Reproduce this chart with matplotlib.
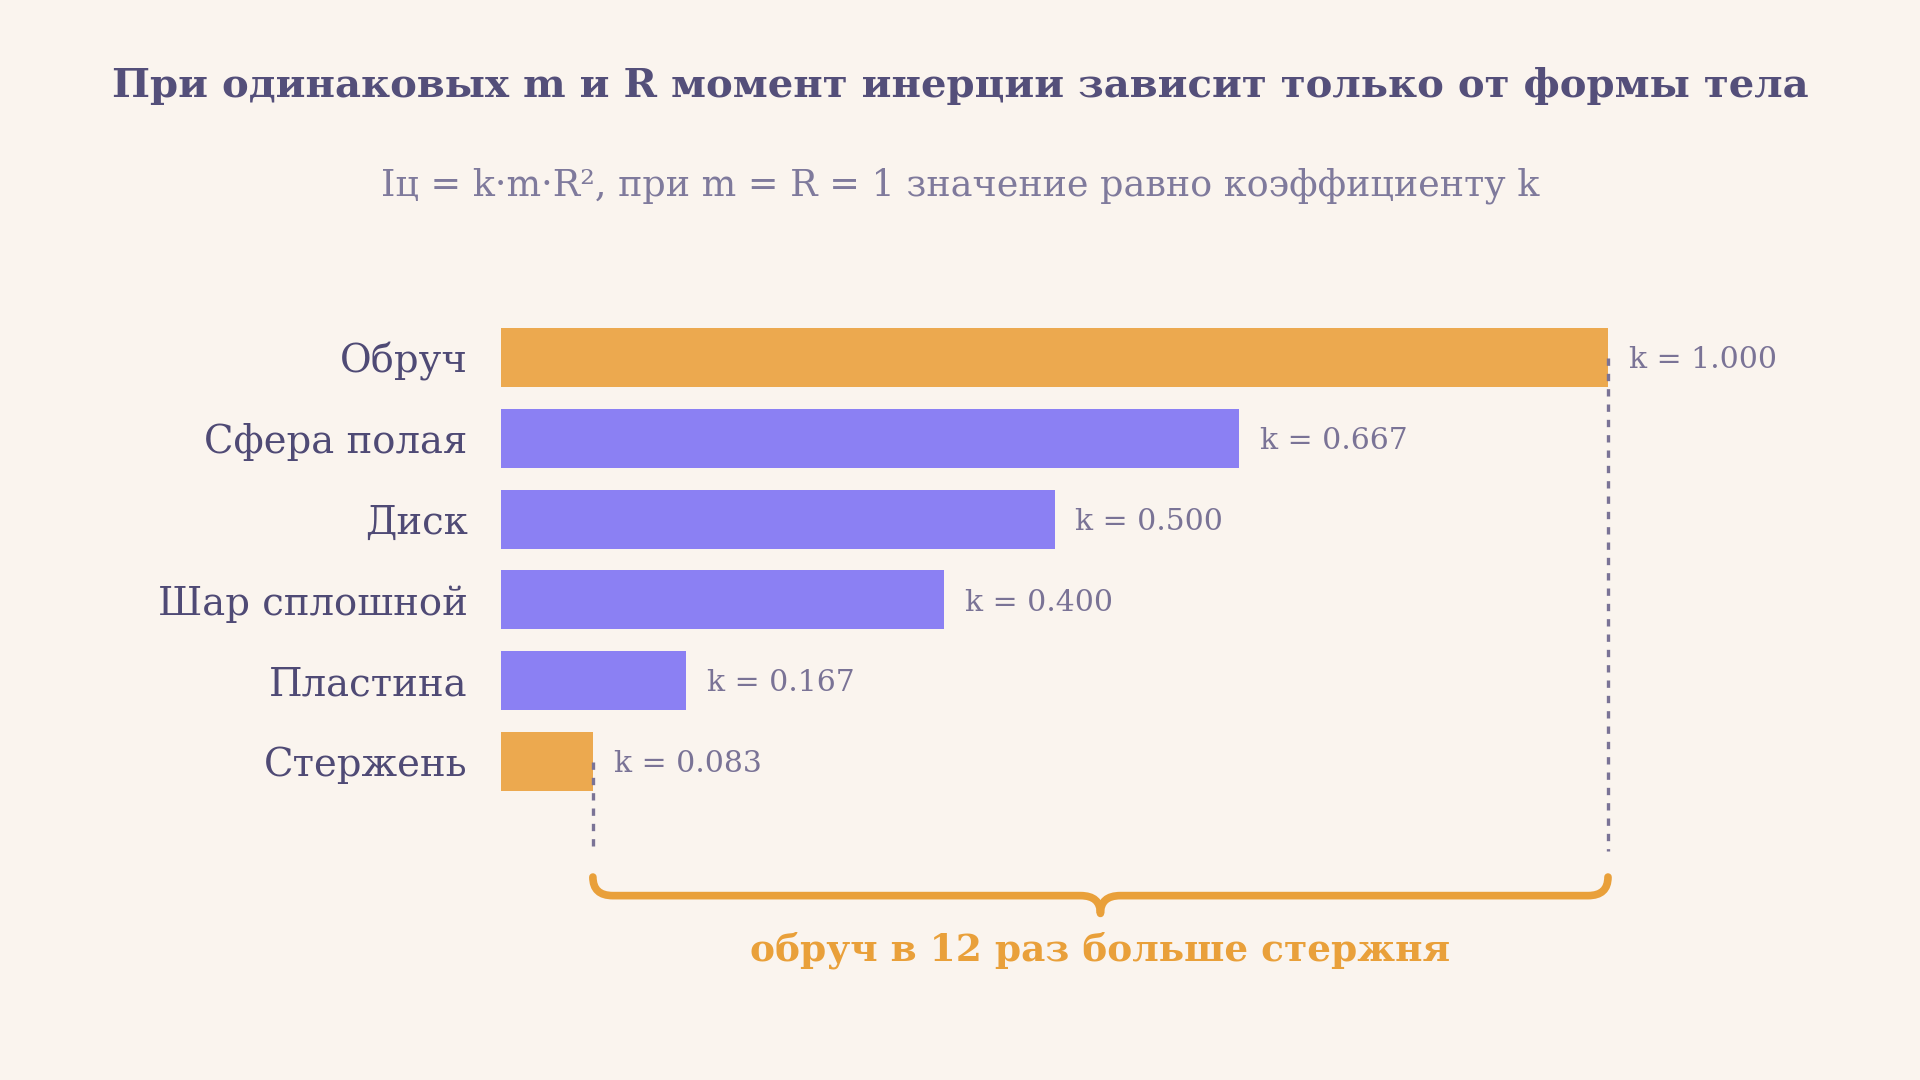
import matplotlib
matplotlib.use("Agg")
import matplotlib.pyplot as plt
from matplotlib.path import Path
from matplotlib.patches import PathPatch

# ---- data ----
categories = ["Обруч", "Сфера полая", "Диск", "Шар сплошной", "Пластина", "Стержень"]
k_values = [1.000, 0.667, 0.500, 0.400, 0.167, 0.083]
value_labels = ["k = 1.000", "k = 0.667", "k = 0.500", "k = 0.400", "k = 0.167", "k = 0.083"]
highlight = [True, False, False, False, False, True]

title = "При одинаковых m и R момент инерции зависит только от формы тела"
subtitle = "Iц = k·m·R², при m = R = 1 значение равно коэффициенту k"
brace_text = "обруч в 12 раз больше стержня"

# ---- style ----
BG = "#FAF4EE"
ORANGE = "#ECA94F"
BRACE = "#E9A03A"
PURPLE = "#8B80F3"
TITLE_C = "#544F7A"
LABEL_C = "#4F4A75"
VAL_C = "#7A7396"
SUB_C = "#7F7A9C"
FONT = ["DejaVu Serif"]

plt.rcParams["font.family"] = FONT

W, H = 1920, 1080
fig = plt.figure(figsize=(W / 100, H / 100), dpi=100, facecolor=BG)

# axes geometry (pixels)
x_left, x_right = 501, 1608
row0, step = 357.5, 80.8
y_top_data, y_bot_data = -0.5, 8.0
top_px = row0 + y_top_data * step
bot_px = row0 + y_bot_data * step
ax = fig.add_axes([x_left / W, 1 - bot_px / H, (x_right - x_left) / W, (bot_px - top_px) / H])
ax.set_facecolor("none")
ax.set_xlim(0, 1)
ax.set_ylim(y_bot_data, y_top_data)
for s in ax.spines.values():
    s.set_visible(False)
ax.set_xticks([])

ypos = list(range(len(categories)))
colors = [ORANGE if h else PURPLE for h in highlight]
ax.barh(ypos, k_values, height=0.73, color=colors, zorder=2)

ax.set_yticks(ypos)
ax.set_yticklabels(categories, fontsize=27.8, color=LABEL_C)
ax.tick_params(axis="y", length=0, pad=24)

for y, v, lab in zip(ypos, k_values, value_labels):
    ax.annotate(lab, xy=(v, y), xytext=(15, -2), textcoords="offset points",
                va="center", ha="left", fontsize=21.5, color=VAL_C)

# dashed guides
k_hoop, k_rod = k_values[0], k_values[-1]
y_dash_end = 6.11
ax.plot([k_rod, k_rod], [ypos[-1], y_dash_end], ls=(0, (2.2, 2.4)), lw=2.4,
        color=VAL_C, zorder=3, clip_on=False)
ax.plot([k_hoop, k_hoop], [ypos[0], y_dash_end], ls=(0, (2.2, 2.4)), lw=2.4,
        color=VAL_C, zorder=3, clip_on=False)

# brace
xL, xR = k_rod, k_hoop
xm = (xL + xR) / 2
y_end, y_band, y_tip = 6.43, 6.66, 6.88
dx = 0.018
verts = [
    (xL, y_end), (xL, y_band), (xL + dx, y_band),
    (xm - dx, y_band), (xm, y_band), (xm, y_tip),
    (xm, y_band), (xm + dx, y_band),
    (xR - dx, y_band), (xR, y_band), (xR, y_end),
]
codes = [Path.MOVETO, Path.CURVE3, Path.CURVE3,
         Path.LINETO, Path.CURVE3, Path.CURVE3,
         Path.CURVE3, Path.CURVE3,
         Path.LINETO, Path.CURVE3, Path.CURVE3]
ax.add_patch(PathPatch(Path(verts, codes), fill=False, edgecolor=BRACE, lw=5.5,
                       capstyle="round", joinstyle="round", zorder=3, clip_on=False))
ax.text(xm, 7.33, brace_text, ha="center", va="center", fontsize=27,
        fontweight="bold", color=BRACE)

fig.text(0.5, 1 - 86 / H, title, ha="center", va="center", fontsize=29,
         fontweight="bold", color=TITLE_C)
fig.text(0.5, 1 - 186 / H, subtitle, ha="center", va="center", fontsize=26.3,
         color=SUB_C)

fig.savefig("out.png", dpi=100, facecolor=BG)
